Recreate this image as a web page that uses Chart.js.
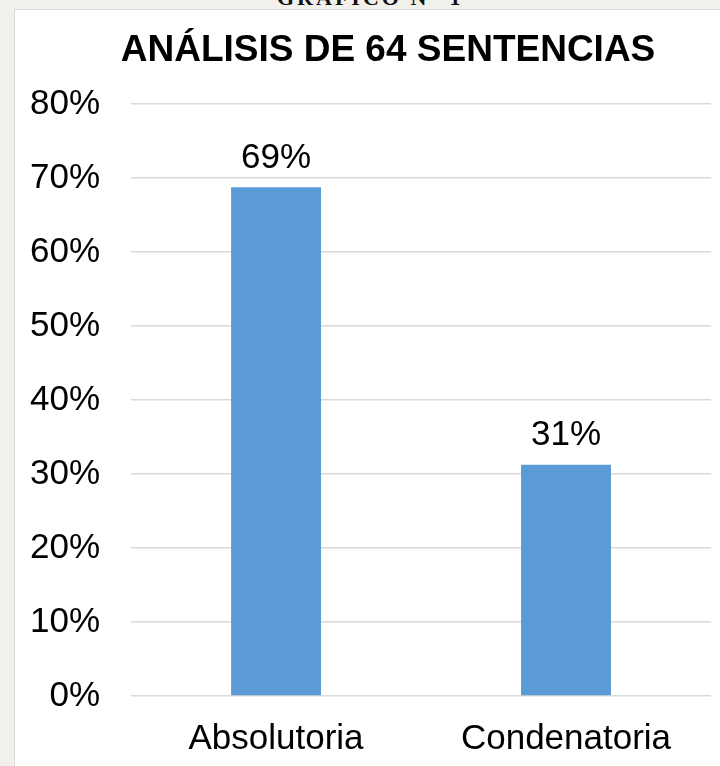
<!DOCTYPE html>
<html>
<head>
<meta charset="utf-8">
<script src="https://cdn.jsdelivr.net/npm/chart.js@4.4.1/dist/chart.umd.min.js"></script>
<style>
  html, body { margin: 0; padding: 0; }
  body {
    width: 720px; height: 766px; overflow: hidden; position: relative;
    background: #f1f0ea;
  }
  #header {
    position: absolute; left: 277px; top: -13px; width: 200px;
    font: bold 22px "Liberation Serif", serif; line-height: 22px;
    letter-spacing: 3px; color: #111; white-space: nowrap;
  }
  #box {
    position: absolute; left: 14px; top: 9px; width: 706px; height: 757px;
    background: #fff; border-left: 1px solid #d9d9d9; border-top: 1px solid #d9d9d9;
  }
  #box canvas { display: block; }
</style>
</head>
<body>
<div id="header">GRÁFICO N° 1</div>
<div id="box"><canvas id="chart" width="705" height="756"></canvas></div>
<script>

// ---------------------
// Data
// ---------------------

const categories = ["Absolutoria", "Condenatoria"];
const percentages = [68.75, 31.25];   // 44 y 20 de 64 sentencias
const yTicks = [0, 10, 20, 30, 40, 50, 60, 70, 80];

const chartTitle = "ANÁLISIS DE 64 SENTENCIAS";

const FONT = "'Liberation Sans', Arial, sans-serif";

// ---------------------
// Title + value labels
// ---------------------

const extraText = {
  id: "extraText",
  afterDatasetsDraw(chart) {
    const ctx = chart.ctx;
    const meta = chart.getDatasetMeta(0);
    ctx.save();
    ctx.fillStyle = "#000";
    ctx.textAlign = "center";
    ctx.textBaseline = "middle";

    // title (slightly right of canvas centre, like the original)
    ctx.font = "bold 37px " + FONT;
    ctx.fillText(chartTitle, 373, 41);

    // percentages above each bar
    ctx.font = "35px " + FONT;
    meta.data.forEach((bar, i) => {
      ctx.fillText(Math.round(percentages[i]) + "%", bar.x, bar.y - 29);
    });
    ctx.restore();
  }
};

// ---------------------
// Chart
// ---------------------

new Chart(document.getElementById("chart"), {
  type: "bar",
  data: {
    labels: categories,
    datasets: [{
      data: percentages,
      backgroundColor: "#5b9bd5",
      barPercentage: 0.31,
      categoryPercentage: 1
    }]
  },
  options: {
    responsive: false,
    animation: false,
    layout: { padding: { left: -16, right: 9, top: 94, bottom: -16 } },
    plugins: {
      legend: { display: false },
      tooltip: { enabled: false },
      title: { display: false }
    },
    scales: {
      x: {
        grid: { display: false, drawTicks: false },
        border: { display: false },
        ticks: {
          color: "#000",
          padding: 22,
          font: { family: FONT, size: 35 }
        }
      },
      y: {
        min: 0,
        max: 80,
        afterBuildTicks: axis => { axis.ticks = yTicks.map(v => ({ value: v })); },
        grid: { color: "#d9d9d9", lineWidth: 1.5, drawTicks: false },
        border: { display: false },
        ticks: {
          color: "#000",
          padding: 31,
          font: { family: FONT, size: 35 },
          callback: v => v + "%"
        }
      }
    }
  },
  plugins: [extraText]
});

</script>
</body>
</html>
